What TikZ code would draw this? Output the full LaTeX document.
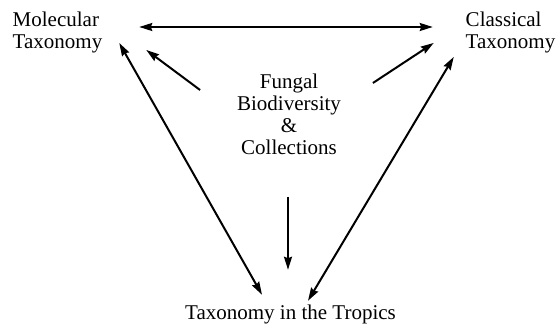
\documentclass[tikz,border=0pt]{standalone}
\usepackage{fontspec}
\setmainfont{Liberation Serif}
\usetikzlibrary{arrows.meta}

\begin{document}
\begin{tikzpicture}[x=1pt,y=-1pt,<->,>={Stealth[length=13pt,width=8pt,inset=1.5pt]},line width=2pt,
  main node/.style={inner sep=0pt,outer sep=0pt,font=\fontsize{21}{22}\selectfont}]
\useasboundingbox (0,0) rectangle (557,331);

            \node[main node, align=left] (1) at (57.5,32) {Molecular\\Taxonomy};
            \node[main node, align=left] (2) at (510.5,32) {Classical\\Taxonomy};
            \node[main node, align=center] (3) at (289,114.5) {Fungal\\Biodiversity\\\&\\Collections};
            \node[main node] (4) at (290.5,314.3) {Taxonomy in the Tropics};

            \path
                ([shift={(37,-5)}]1.east) edge ([shift={(-33,-5)}]2.west)
                ([shift={(-37,-24.5)}]3.west) edge[->] ([shift={(44,-2.6)}]1.south east)
                ([shift={(32,-31.5)}]3.east) edge[->] ([shift={(-32,-9.6)}]2.south west)
                ([shift={(17,11)}]1.east) edge ([shift={(-28.5,-10)}]4.north)
                ([shift={(-12,4.4)}]2.south west) edge ([shift={(17.5,-4)}]4.north)
                ([shift={(-1,42)}]3.south) edge[->] ([shift={(-2.5,-35)}]4.north)
            ;
\end{tikzpicture}
\end{document}
